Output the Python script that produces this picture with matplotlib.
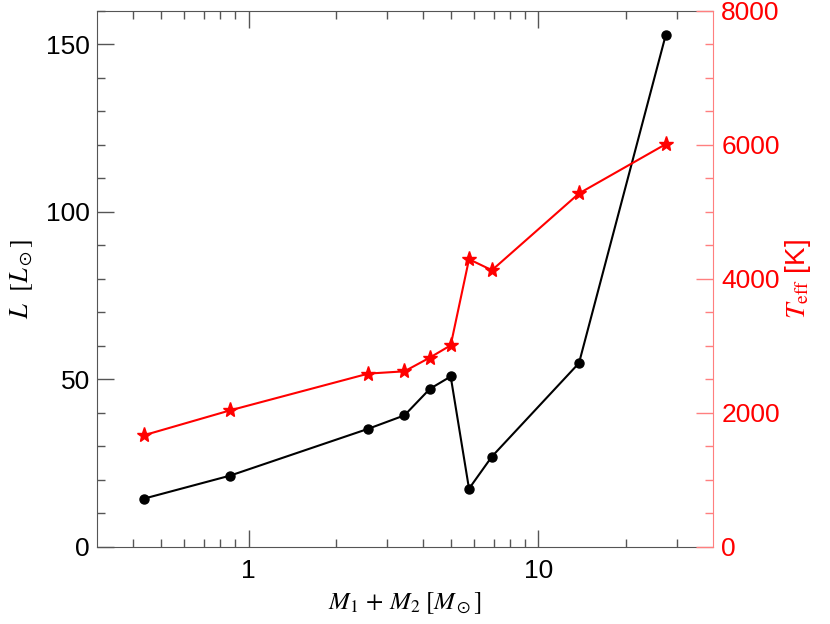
import numpy as np
import matplotlib
matplotlib.use('Agg')
import matplotlib.pyplot as plt
from matplotlib.ticker import MultipleLocator, FixedLocator, FixedFormatter, NullFormatter

plt.rcParams['font.family'] = ['Liberation Sans', 'DejaVu Sans']
plt.rcParams['mathtext.fontset'] = 'stix'

# total mass, luminosity, effective temperature
mass = [0.434, 0.863, 2.59, 3.45, 4.22, 4.98, 5.76, 6.91, 13.8, 27.5]
lum = [14.4, 21.3, 35.3, 39.3, 47.2, 50.9, 17.4, 27.0, 54.9, 152.9]
teff = [1666, 2039, 2588, 2622, 2827, 3010, 4295, 4131, 5277, 6013]

axcol = '#555555'
rcol = 'red'
spcol = '#ff7f7f'

fig = plt.figure(figsize=(8.3, 6.24), dpi=100)
ax = fig.add_axes([0.1169, 0.1234, 0.859 - 0.1169, 0.9824 - 0.1234])
ax.plot(mass, lum, '-', color='black', lw=1.5, marker='o', ms=6.5, zorder=3)
ax.set_xscale('log')
ax.set_xlim(0.3, 40)
ax.set_ylim(0, 160)
ax.xaxis.set_major_locator(FixedLocator([1, 10]))
ax.xaxis.set_minor_locator(FixedLocator([0.4, 0.5, 0.6, 0.7, 0.8, 0.9,
                                         2, 3, 4, 5, 6, 7, 8, 9, 20, 30]))
ax.xaxis.set_major_formatter(FixedFormatter(['1', '10']))
ax.xaxis.set_minor_formatter(NullFormatter())
ax.yaxis.set_major_locator(MultipleLocator(50))
ax.yaxis.set_minor_locator(MultipleLocator(10))
ax.tick_params(axis='x', which='both', direction='in', top=True, colors=axcol,
               labelcolor='black', labelsize=19, pad=9)
ax.tick_params(axis='y', which='both', direction='in', right=False, colors=axcol,
               labelcolor='black', labelsize=19, pad=5)
ax.tick_params(which='major', length=12, width=1)
ax.tick_params(which='minor', length=6, width=1)
for s in ['left', 'bottom', 'top']:
    ax.spines[s].set_color(axcol)
ax.spines['right'].set_visible(False)
ax.set_xlabel(r'$M_1\,+\,M_2\;[M_\odot]$', fontsize=18, labelpad=5)
ax.set_ylabel(r'$L\ \ [L_\odot]$', fontsize=19, labelpad=8)

ax2 = ax.twinx()
ax2.plot(mass, teff, '-', color=rcol, lw=1.5, marker='*', ms=11, zorder=3)
ax2.set_ylim(0, 8000)
ax2.yaxis.set_major_locator(MultipleLocator(2000))
ax2.yaxis.set_minor_locator(MultipleLocator(500))
ax2.tick_params(axis='y', which='both', direction='in', colors=spcol,
                labelcolor=rcol, labelsize=19, pad=6)
ax2.tick_params(which='major', length=12, width=1)
ax2.tick_params(which='minor', length=6, width=1)
for s in ['left', 'bottom', 'top']:
    ax2.spines[s].set_visible(False)
ax2.spines['right'].set_color(spcol)
ax2.set_ylabel(r'$T_{\rm eff}$ [K]', fontsize=20, color=rcol, labelpad=2)

fig.savefig('out.png', dpi=100)
